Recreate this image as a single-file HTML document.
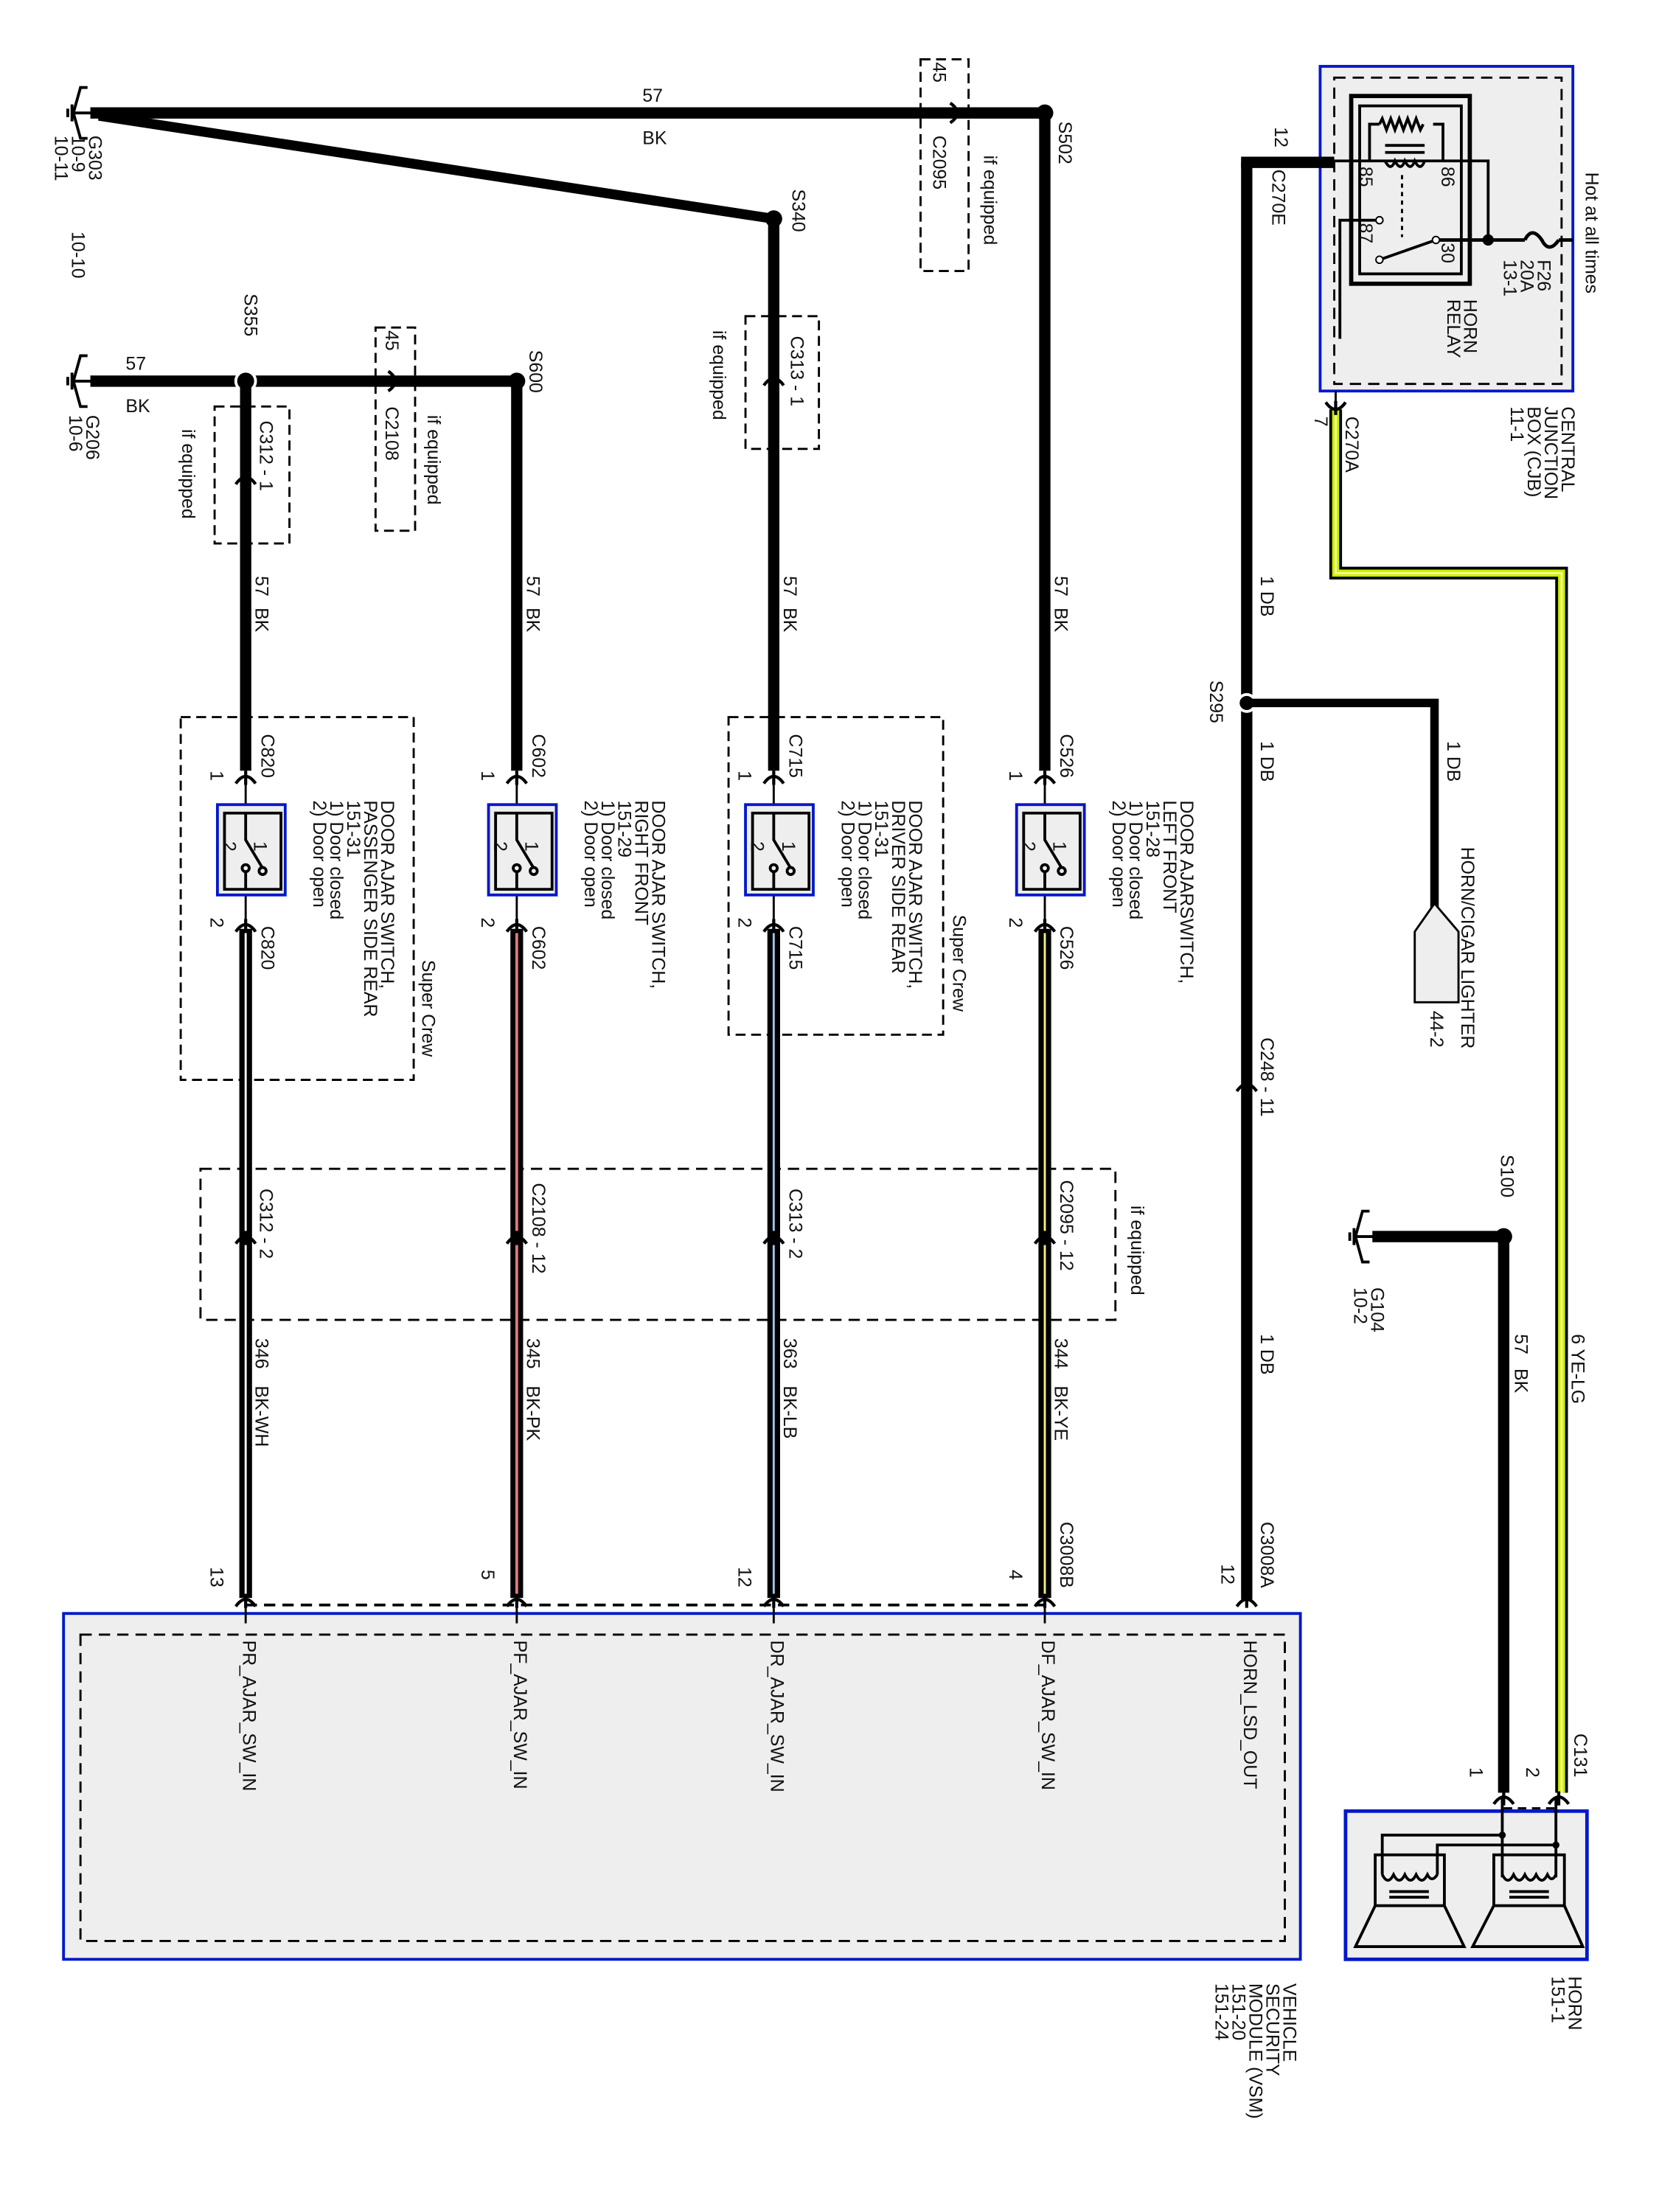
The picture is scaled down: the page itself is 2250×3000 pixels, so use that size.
<!DOCTYPE html>
<html><head><meta charset="utf-8"><style>
html,body{margin:0;padding:0;background:#fff}
svg{display:block}
text{font-family:"Liberation Sans",Arial,sans-serif;font-size:13px;fill:#111}
</style></head><body>
<svg width="2250" height="3000" viewBox="0 0 1175 1567" preserveAspectRatio="none" xmlns="http://www.w3.org/2000/svg">
<defs>
<g id="conn"><path d="M-7,5 Q0,-5 7,5 M0,-4 L0,6" stroke="#000" stroke-width="2.2" fill="none"/></g>
<g id="gnd"><path d="M0,-18 L-5,-18 L-10,0 L-5,18 L0,18 M-10,0 L8,0 M-11,-6 L-11,6 M-14,-3 L-14,3" stroke="#000" stroke-width="2" fill="none"/></g>
</defs>

<!-- VSM -->
<rect x="45" y="1143" width="876" height="245" fill="#eee" stroke="#0018c8" stroke-width="2"/>
<rect x="57" y="1158" width="853" height="217" fill="none" stroke="#000" stroke-width="1.5" stroke-dasharray="8,5"/>
<!-- CJB -->
<rect x="935" y="47" width="179" height="230" fill="#eee" stroke="#0018c8" stroke-width="2"/>
<rect x="945" y="55" width="161" height="217" fill="none" stroke="#000" stroke-width="1.5" stroke-dasharray="8,5"/>
<!-- Horn -->
<rect x="953" y="1283" width="171" height="105" fill="#eee" stroke="#0018c8" stroke-width="2.5"/>

<!-- top ground G303 bus -->
<use href="#gnd" x="62" y="80"/>
<line x1="64" y1="80" x2="740" y2="80" stroke="#000" stroke-width="8"/>
<line x1="70" y1="82" x2="548" y2="155" stroke="#000" stroke-width="7"/>
<circle cx="740" cy="80" r="6"/><circle cx="548" cy="155" r="6"/>
<use href="#conn" x="678" y="80" transform="rotate(90 678 80)"/>
<rect x="652" y="42" width="34" height="150" fill="none" stroke="#000" stroke-width="1.5" stroke-dasharray="7,4"/>

<!-- G206 bus -->
<use href="#gnd" x="62" y="270"/>
<line x1="64" y1="270" x2="366" y2="270" stroke="#000" stroke-width="8"/>
<circle cx="174" cy="270" r="7" stroke="#fff" stroke-width="2"/><circle cx="366" cy="270" r="6"/>
<use href="#conn" x="280" y="270" transform="rotate(90 280 270)"/>
<rect x="266" y="232" width="28" height="144" fill="none" stroke="#000" stroke-width="1.5" stroke-dasharray="7,4"/>
<rect x="152" y="288" width="53" height="97" fill="none" stroke="#000" stroke-width="1.5" stroke-dasharray="7,4"/>
<rect x="528" y="224" width="52" height="94" fill="none" stroke="#000" stroke-width="1.5" stroke-dasharray="7,4"/>

<!-- Verticals -->
<g stroke="#000">
<line x1="740" y1="80" x2="740" y2="546" stroke-width="8"/>
<line x1="548" y1="155" x2="548" y2="546" stroke-width="8"/>
<line x1="366" y1="270" x2="366" y2="546" stroke-width="8"/>
<line x1="174" y1="270" x2="174" y2="546" stroke-width="8"/>
</g>
<use href="#conn" x="548" y="268"/><use href="#conn" x="174" y="338"/>

<!-- super crew boxes -->
<rect x="128" y="508" width="165" height="257" fill="none" stroke="#000" stroke-width="1.5" stroke-dasharray="7,4"/>
<rect x="516" y="508" width="152" height="225" fill="none" stroke="#000" stroke-width="1.5" stroke-dasharray="7,4"/>
<rect x="142" y="828" width="648" height="107" fill="none" stroke="#000" stroke-width="1.5" stroke-dasharray="8,5"/>
<line x1="174" y1="1137" x2="740" y2="1137" stroke="#000" stroke-width="2" stroke-dasharray="8,5"/>

<g stroke="#000" fill="none">
<path d="M740,548 V1150 M548,548 V1150 M366,548 V1150 M174,548 V1150" stroke-width="1.5"/>
<path d="M740,658 V1132 M548,658 V1132 M366,658 V1132 M174,658 V1132" stroke-width="9"/>
</g>
<path d="M740,658 V1132" stroke="#f4f080" stroke-width="1.5"/>
<path d="M548,658 V1132" stroke="#9cc8f0" stroke-width="1.5"/>
<path d="M366,658 V1132" stroke="#e07880" stroke-width="2"/>
<path d="M174,658 V1132" stroke="#fff" stroke-width="1.5"/>
<g>
<use href="#conn" x="740" y="550"/><use href="#conn" x="548" y="550"/><use href="#conn" x="366" y="550"/><use href="#conn" x="174" y="550"/>
<use href="#conn" x="740" y="655"/><use href="#conn" x="548" y="655"/><use href="#conn" x="366" y="655"/><use href="#conn" x="174" y="655"/>
<use href="#conn" x="740" y="876"/><use href="#conn" x="548" y="876"/><use href="#conn" x="366" y="876"/><use href="#conn" x="174" y="876"/>
<use href="#conn" x="740" y="1133"/><use href="#conn" x="548" y="1133"/><use href="#conn" x="366" y="1133"/><use href="#conn" x="174" y="1133"/>
<use href="#conn" x="883" y="1133"/><use href="#conn" x="883" y="768"/>
</g>
<g fill="#eee" stroke="#000">
<rect x="720" y="570" width="48" height="64" stroke="#0018c8" stroke-width="2"/>
<rect x="528" y="570" width="48" height="64" stroke="#0018c8" stroke-width="2"/>
<rect x="346" y="570" width="48" height="64" stroke="#0018c8" stroke-width="2"/>
<rect x="154" y="570" width="48" height="64" stroke="#0018c8" stroke-width="2"/>
</g>
<g stroke="#000" fill="none" stroke-width="2">
<path d="M725,576 H765 V630 H725Z M740,576 V595 L752,615 M740,617 V630"/><circle cx="740" cy="615" r="2.5"/><circle cx="752" cy="617" r="2.5"/>
<path d="M533,576 H573 V630 H533Z M548,576 V595 L560,615 M548,617 V630"/><circle cx="548" cy="615" r="2.5"/><circle cx="560" cy="617" r="2.5"/>
<path d="M351,576 H391 V630 H351Z M366,576 V595 L378,615 M366,617 V630"/><circle cx="366" cy="615" r="2.5"/><circle cx="378" cy="617" r="2.5"/>
<path d="M159,576 H199 V630 H159Z M174,576 V595 L186,615 M174,617 V630"/><circle cx="174" cy="615" r="2.5"/><circle cx="186" cy="617" r="2.5"/>
</g>

<!-- right side horn wire -->
<path d="M883,115 V1133" stroke="#000" stroke-width="8"/>
<path d="M879,115 H945" stroke="#000" stroke-width="8"/>
<circle cx="883" cy="498" r="6" stroke="#fff" stroke-width="2"/>
<path d="M883,498 H1016 V645" stroke="#000" stroke-width="6" fill="none"/>
<path d="M1016,640 L1033,660 V710 H1002 V660 L1016,640Z" fill="#eee" stroke="#000" stroke-width="1.5"/>
<!-- yellow wire -->
<path d="M946,290 V406 H1106 V1270" stroke="#000" stroke-width="9" fill="none"/>
<path d="M946,290 V406 H1106 V1270" stroke="#c8f000" stroke-width="5" fill="none"/>
<path d="M946,290 V406 H1106 V1270" stroke="#f8f8a0" stroke-width="1.5" fill="none"/>
<path d="M946,277 V292" stroke="#000" stroke-width="1.5"/>
<use href="#conn" x="946" y="290" transform="rotate(180 946 290)"/>
<!-- S100 -->
<use href="#gnd" x="970" y="876"/>
<path d="M972,876 H1065 V1270" stroke="#000" stroke-width="8" fill="none"/>
<circle cx="1065" cy="876" r="6"/>
<use href="#conn" x="1065" y="1273"/><use href="#conn" x="1104" y="1273"/>
<path d="M1065,1281 H1104" stroke="#000" stroke-width="1.5" stroke-dasharray="6,4"/>
<!-- horn internals -->
<g stroke="#000" stroke-width="2" fill="none">
<path d="M1064,1273 V1330 M1102,1273 V1330"/>
<path d="M979,1328 V1300 H1064 M1018,1328 V1307 H1102"/>
<rect x="974" y="1314" width="49" height="36"/><rect x="1058" y="1314" width="50" height="36"/>
<path d="M974,1350 L960,1379 H1037 L1023,1350 M1058,1350 L1043,1379 H1121 L1108,1350"/>
<path d="M979,1328 q4,8 8,0 q4,8 8,0 q4,8 8,0 q4,8 8,0 q3,6 7,0 M1064,1328 q4,8 8,0 q4,8 8,0 q4,8 8,0 q4,8 8,0 q3,6 6,0"/>
<path d="M984,1340 H1012 M984,1344 H1012 M1069,1340 H1097 M1069,1344 H1097"/>
</g>
<circle cx="1064" cy="1300" r="2.5"/><circle cx="1102" cy="1307" r="2.5"/>

<!-- relay -->
<g stroke="#000" fill="none">
<rect x="957" y="68" width="84" height="133" stroke-width="3"/>
<rect x="963" y="75" width="72" height="119" stroke-width="2"/>
<path d="M945,114 H1054 V170 M970,114 V88 H977 M1015,88 H1022 V114" stroke-width="2"/>
<path d="M977,88 l2,-4 3,8 3,-8 3,8 3,-8 3,8 3,-8 3,8 3,-8 3,8 2,-4" stroke-width="2"/>
<path d="M981,114 q4,8 7,0 q4,8 7,0 q4,8 7,0 q4,8 7,0 M981,103 H1009 M981,108 H1009" stroke-width="2"/>
<path d="M993,124 V168" stroke-width="1.5" stroke-dasharray="3,3"/>
<path d="M1017,170 H1080 M1080,170 q5,-10 12,0 q5,10 12,0 M1104,170 H1114" stroke-width="2.5"/>
<path d="M1017,170 L977,184 M977,156 H949 V240" stroke-width="2"/>
</g>
<circle cx="1054" cy="170" r="4"/>
<circle cx="1017" cy="170" r="2.5" fill="#fff" stroke="#000"/>
<circle cx="977" cy="184" r="2.5" fill="#fff" stroke="#000"/>
<circle cx="977" cy="156" r="2.5" fill="#fff" stroke="#000"/>

<!-- TEXT -->
<g>
<text x="455" y="72">57</text><text x="455" y="102">BK</text>
<text x="89" y="262">57</text><text x="89" y="292">BK</text>
</g>
<g font-size="13" transform="translate(-9,0)">
<text transform="translate(72,96) rotate(90)">G303<tspan x="0" dy="12">10-9</tspan><tspan x="0" dy="12">10-11</tspan></text>
<text transform="translate(60,164) rotate(90)">10-10</text>
<text transform="translate(70,294) rotate(90)">G206<tspan x="0" dy="12">10-6</tspan></text>
<text transform="translate(670,44) rotate(90)">45</text>
<text transform="translate(670,96) rotate(90)">C2095</text>
<text transform="translate(706,110) rotate(90)">if equipped</text>
<text transform="translate(759,86) rotate(90)">S502</text>
<text transform="translate(570,134) rotate(90)">S340</text>
<text transform="translate(514,234) rotate(90)">if equipped</text>
<text transform="translate(569,238) rotate(90)">C313 - 1</text>
<text transform="translate(182,208) rotate(90)">S355</text>
<text transform="translate(384,248) rotate(90)">S600</text>
<text transform="translate(282,234) rotate(90)">45</text>
<text transform="translate(282,288) rotate(90)">C2108</text>
<text transform="translate(312,294) rotate(90)">if equipped</text>
<text transform="translate(193,298) rotate(90)">C312 - 1</text>
<text transform="translate(138,304) rotate(90)">if equipped</text>

<text transform="translate(190,408) rotate(90)">57<tspan dx="8">BK</tspan></text>
<text transform="translate(382,408) rotate(90)">57<tspan dx="8">BK</tspan></text>
<text transform="translate(564,408) rotate(90)">57<tspan dx="8">BK</tspan></text>
<text transform="translate(756,408) rotate(90)">57<tspan dx="8">BK</tspan></text>

<text transform="translate(194,520) rotate(90)">C820</text>
<text transform="translate(386,520) rotate(90)">C602</text>
<text transform="translate(568,520) rotate(90)">C715</text>
<text transform="translate(760,520) rotate(90)">C526</text>
<text transform="translate(194,656) rotate(90)">C820</text>
<text transform="translate(386,656) rotate(90)">C602</text>
<text transform="translate(568,656) rotate(90)">C715</text>
<text transform="translate(760,656) rotate(90)">C526</text>
<text transform="translate(158,546) rotate(90)">1</text><text transform="translate(158,650) rotate(90)">2</text>
<text transform="translate(350,546) rotate(90)">1</text><text transform="translate(350,650) rotate(90)">2</text>
<text transform="translate(532,546) rotate(90)">1</text><text transform="translate(532,650) rotate(90)">2</text>
<text transform="translate(724,546) rotate(90)">1</text><text transform="translate(724,650) rotate(90)">2</text>
<g font-size="11">
<text transform="translate(167,596) rotate(90)">2</text><text transform="translate(189,596) rotate(90)">1</text>
<text transform="translate(359,596) rotate(90)">2</text><text transform="translate(381,596) rotate(90)">1</text>
<text transform="translate(541,596) rotate(90)">2</text><text transform="translate(563,596) rotate(90)">1</text>
<text transform="translate(733,596) rotate(90)">2</text><text transform="translate(755,596) rotate(90)">1</text>
</g>

<text transform="translate(279,567) rotate(90)">DOOR AJAR SWITCH,<tspan x="0" dy="12">PASSENGER SIDE REAR</tspan><tspan x="0" dy="12">151-31</tspan><tspan x="0" dy="12">1) Door closed</tspan><tspan x="0" dy="12">2) Door open</tspan></text>
<text transform="translate(471,567) rotate(90)">DOOR AJAR SWITCH,<tspan x="0" dy="12">RIGHT FRONT</tspan><tspan x="0" dy="12">151-29</tspan><tspan x="0" dy="12">1) Door closed</tspan><tspan x="0" dy="12">2) Door open</tspan></text>
<text transform="translate(653,567) rotate(90)">DOOR AJAR SWITCH,<tspan x="0" dy="12">DRIVER SIDE REAR</tspan><tspan x="0" dy="12">151-31</tspan><tspan x="0" dy="12">1) Door closed</tspan><tspan x="0" dy="12">2) Door open</tspan></text>
<text transform="translate(845,567) rotate(90)">DOOR AJARSWITCH,<tspan x="0" dy="12">LEFT FRONT</tspan><tspan x="0" dy="12">151-28</tspan><tspan x="0" dy="12">1) Door closed</tspan><tspan x="0" dy="12">2) Door open</tspan></text>
<text transform="translate(308,680) rotate(90)">Super Crew</text>
<text transform="translate(684,648) rotate(90)">Super Crew</text>

<text transform="translate(193,842) rotate(90)">C312 - 2</text>
<text transform="translate(386,838) rotate(90)">C2108 - 12</text>
<text transform="translate(568,842) rotate(90)">C313 - 2</text>
<text transform="translate(760,836) rotate(90)">C2095 - 12</text>
<text transform="translate(810,854) rotate(90)">if equipped</text>

<text transform="translate(190,948) rotate(90)">346<tspan dx="12">BK-WH</tspan></text>
<text transform="translate(382,948) rotate(90)">345<tspan dx="12">BK-PK</tspan></text>
<text transform="translate(564,948) rotate(90)">363<tspan dx="12">BK-LB</tspan></text>
<text transform="translate(756,948) rotate(90)">344<tspan dx="12">BK-YE</tspan></text>
<text transform="translate(760,1078) rotate(90)">C3008B</text>
<text transform="translate(902,1078) rotate(90)">C3008A</text>
<text transform="translate(158,1110) rotate(90)">13</text>
<text transform="translate(350,1112) rotate(90)">5</text>
<text transform="translate(532,1110) rotate(90)">12</text>
<text transform="translate(724,1112) rotate(90)">4</text>
<text transform="translate(874,1108) rotate(90)">12</text>

<text transform="translate(181,1162) rotate(90)">PR_AJAR_SW_IN</text>
<text transform="translate(373,1162) rotate(90)">PF_AJAR_SW_IN</text>
<text transform="translate(555,1162) rotate(90)">DR_AJAR_SW_IN</text>
<text transform="translate(747,1162) rotate(90)">DF_AJAR_SW_IN</text>
<text transform="translate(890,1162) rotate(90)">HORN_LSD_OUT</text>
<text transform="translate(918,1405) rotate(90)">VEHICLE<tspan x="0" dy="12">SECURITY</tspan><tspan x="0" dy="12">MODULE (VSM)</tspan><tspan x="0" dy="12">151-20</tspan><tspan x="0" dy="12">151-24</tspan></text>

<text transform="translate(912,90) rotate(90)">12</text>
<text transform="translate(910,120) rotate(90)">C270E</text>
<text transform="translate(902,408) rotate(90)">1 DB</text>
<text transform="translate(866,482) rotate(90)">S295</text>
<text transform="translate(902,525) rotate(90)">1 DB</text>
<text transform="translate(1034,525) rotate(90)">1 DB</text>
<text transform="translate(1044,600) rotate(90)">HORN/CIGAR LIGHTER</text>
<text transform="translate(1022,716) rotate(90)">44-2</text>
<text transform="translate(902,735) rotate(90)">C248 - 11</text>
<text transform="translate(902,945) rotate(90)">1 DB</text>
<text transform="translate(1072,818) rotate(90)">S100</text>
<text transform="translate(980,912) rotate(90)">G104<tspan x="0" dy="12">10-2</tspan></text>
<text transform="translate(1082,945) rotate(90)">57<tspan dx="10">BK</tspan></text>
<text transform="translate(1122,945) rotate(90)">6 YE-LG</text>
<text transform="translate(1124,1228) rotate(90)">C131</text>
<text transform="translate(1090,1252) rotate(90)">2</text>
<text transform="translate(1050,1252) rotate(90)">1</text>
<text transform="translate(1120,1400) rotate(90)">HORN<tspan x="0" dy="12">151-1</tspan></text>

<text transform="translate(1115,288) rotate(90)">CENTRAL<tspan x="0" dy="12">JUNCTION</tspan><tspan x="0" dy="12">BOX (CJB)</tspan><tspan x="0" dy="12">11-1</tspan></text>
<text transform="translate(962,295) rotate(90)">C270A</text>
<text transform="translate(940,295) rotate(90)">7</text>
<text transform="translate(1132,122) rotate(90)">Hot at all times</text>
<text transform="translate(1098,184) rotate(90)">F26<tspan x="0" dy="12">20A</tspan><tspan x="0" dy="12">13-1</tspan></text>
<text transform="translate(1046,212) rotate(90)">HORN<tspan x="0" dy="12">RELAY</tspan></text>
<text transform="translate(972,118) rotate(90)">85</text>
<text transform="translate(1030,118) rotate(90)">86</text>
<text transform="translate(972,158) rotate(90)">87</text>
<text transform="translate(1030,172) rotate(90)">30</text>
</g>
</svg>
</body></html>
